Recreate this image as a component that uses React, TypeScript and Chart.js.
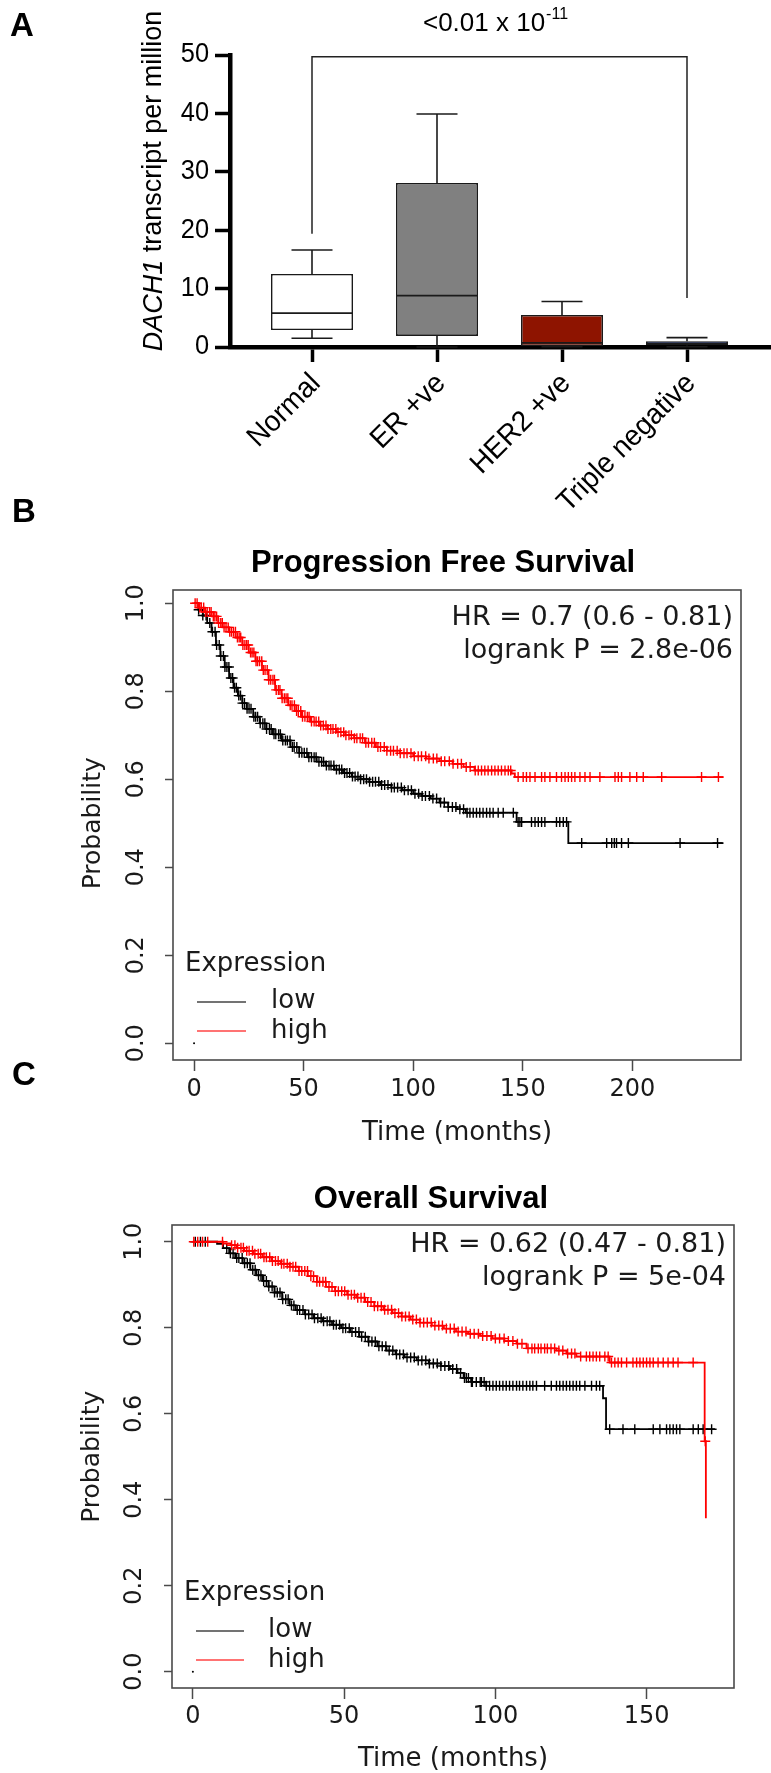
import React, { useEffect, useRef } from 'react';
import { Chart, registerables } from 'chart.js';

Chart.register(...registerables);

// ---------------- Panel A: box plot data ----------------
const categories = ['Normal', 'ER +ve', 'HER2 +ve', 'Triple negative'];
const categoryPos = [1, 2, 3, 4];
const whiskerLow = [1.5, 0.0, 0.05, 0.05];
const quartile1 = [2.9, 1.9, 0.15, 0.3];
const medians = [5.8, 8.8, 0.7, 0.6];
const quartile3 = [12.5, 28.1, 5.5, 1.0];
const whiskerHigh = [16.6, 39.9, 7.8, 1.6];
const boxColors = ['#ffffff', '#808080', '#8e1400', '#1f50ee'];
const yTicksA = [0, 10, 20, 30, 40, 50];
const bracketCats = [1, 4];
const bracketTop = 49.7;
const bracketLegEnds = [19.4, 8.4];
const pLabel = '<0.01 x 10';
const pExponent = '-11';
const yTitleItalic = 'DACH1';
const yTitleRest = ' transcript per million';

// ---------------- Panel B: Progression free survival ----------------
const pfsLowTimes = [0, 2, 4, 6, 8, 10, 12, 14, 16, 18, 20, 22, 24, 27, 30, 33, 36, 40, 44, 48, 52, 56, 60, 64, 68, 72, 76, 80, 85, 90, 95, 100, 104, 108, 112, 116, 120, 124, 147.2, 170.8, 241.6];
const pfsLowSurv = [1.0, 0.985, 0.972, 0.955, 0.935, 0.905, 0.88, 0.855, 0.83, 0.808, 0.79, 0.773, 0.76, 0.742, 0.727, 0.714, 0.702, 0.688, 0.673, 0.66, 0.65, 0.64, 0.631, 0.622, 0.614, 0.606, 0.6, 0.594, 0.587, 0.581, 0.575, 0.567, 0.562, 0.556, 0.547, 0.537, 0.532, 0.524, 0.503, 0.455, 0.455];
const pfsHighTimes = [0, 2, 5, 8, 11, 13, 16, 19, 22, 25, 28, 31, 34, 37, 40, 43, 46, 49, 53, 57, 61, 65, 69, 73, 78, 83, 88, 94, 100, 106, 112, 118, 123, 128, 144.9, 146.4, 241.6];
const pfsHighSurv = [1.0, 0.99, 0.98, 0.97, 0.955, 0.945, 0.935, 0.922, 0.905, 0.888, 0.868, 0.848, 0.826, 0.803, 0.784, 0.768, 0.755, 0.742, 0.731, 0.722, 0.714, 0.707, 0.7, 0.693, 0.683, 0.673, 0.665, 0.659, 0.652, 0.647, 0.641, 0.635, 0.628, 0.62, 0.613, 0.605, 0.605];
const pfsLowCensor = [2.1, 4.0, 5.5, 7.2, 8.4, 9.6, 10.3, 11.5, 12.2, 13.4, 14.1, 15.0, 15.9, 16.8, 17.6, 18.5, 19.3, 20.4, 21.2, 22.1, 23.0, 24.2, 25.1, 26.0, 27.3, 28.1, 29.0, 30.2, 31.4, 32.3, 33.1, 34.4, 35.2, 36.5, 37.3, 38.6, 39.4, 40.5, 41.7, 42.6, 43.8, 44.9, 45.7, 46.9, 48.0, 49.2, 50.3, 51.5, 52.4, 53.6, 54.8, 55.7, 57.0, 58.2, 59.1, 60.4, 61.6, 62.5, 63.8, 65.0, 66.3, 67.4, 68.7, 69.8, 71.0, 72.3, 73.5, 74.8, 76.0, 77.4, 78.7, 80.1, 81.5, 82.8, 84.3, 85.6, 87.0, 88.5, 90.1, 91.4, 92.9, 94.6, 96.0, 97.7, 99.2, 100.8, 102.5, 104.1, 105.6, 107.4, 109.0, 110.7, 112.5, 114.2, 116.0, 117.9, 119.5, 121.3, 123.0, 124.6, 125.9, 127.4, 128.9, 130.4, 131.9, 133.5, 135.0, 136.5, 138.8, 141.1, 145.7, 147.9, 148.7, 149.5, 154.0, 155.6, 157.1, 158.6, 160.1, 165.4, 166.9, 168.5, 170.0, 176.9, 188.3, 190.6, 191.8, 192.8, 195.1, 198.2, 221.8, 238.9];
const pfsHighCensor = [0.5, 1.4, 2.6, 3.3, 4.4, 5.2, 6.0, 7.1, 7.8, 8.8, 9.5, 10.3, 11.2, 12.2, 12.9, 13.7, 14.6, 15.6, 16.3, 17.1, 18.0, 18.9, 19.8, 20.6, 21.3, 22.3, 23.2, 24.0, 24.7, 25.8, 26.5, 27.3, 28.3, 29.0, 29.9, 30.9, 31.6, 32.4, 33.4, 34.1, 35.0, 36.0, 36.7, 37.5, 38.5, 39.2, 40.2, 41.2, 42.0, 42.8, 43.9, 44.7, 45.8, 46.8, 47.6, 48.7, 49.5, 50.6, 51.7, 52.5, 53.6, 54.8, 55.7, 56.9, 57.8, 59.0, 60.2, 61.1, 62.4, 63.4, 64.7, 65.7, 67.0, 68.3, 69.3, 70.7, 71.8, 73.2, 74.3, 75.8, 76.9, 78.4, 79.6, 81.1, 82.3, 83.9, 85.1, 86.8, 88.0, 89.7, 91.0, 92.7, 94.1, 95.8, 97.2, 99.0, 100.5, 102.3, 103.8, 105.7, 107.2, 109.2, 110.8, 112.8, 114.4, 116.5, 118.2, 120.3, 122.0, 124.2, 126.0, 128.3, 129.7, 131.2, 132.7, 134.2, 135.8, 137.3, 138.8, 140.3, 141.9, 143.4, 144.5, 147.9, 150.2, 151.7, 153.3, 155.6, 158.6, 160.1, 162.4, 165.4, 167.7, 169.3, 170.8, 172.3, 173.8, 176.1, 178.4, 180.7, 185.2, 192.1, 193.6, 195.1, 198.9, 202.0, 205.0, 213.4, 231.6, 239.3];

// ---------------- Panel C: Overall survival ----------------
const osLowTimes = [0, 8, 10, 12, 14, 16.5, 19, 21, 23, 25, 27, 29.5, 32, 34, 37, 40, 43, 46, 49, 52, 55, 58, 61, 64, 67, 70, 74, 78, 82, 85, 87.5, 89.5, 92, 97, 135.6, 136.6, 172.6];
const osLowSurv = [1.0, 0.995, 0.985, 0.973, 0.962, 0.95, 0.935, 0.922, 0.909, 0.896, 0.882, 0.866, 0.852, 0.841, 0.831, 0.822, 0.815, 0.807, 0.799, 0.79, 0.779, 0.768, 0.757, 0.747, 0.738, 0.731, 0.724, 0.717, 0.711, 0.704, 0.695, 0.683, 0.674, 0.665, 0.636, 0.564, 0.564];
const osHighTimes = [0, 10, 12.5, 14.5, 17, 20, 23, 26, 29, 32, 35, 38, 41, 44, 47, 51, 54, 57, 60, 63, 66, 69, 72, 75, 79, 83, 87, 91, 95, 99, 103, 107, 110.3, 120.2, 123.5, 126.8, 137.8, 169.2, 169.6];
const osHighSurv = [1.0, 0.996, 0.992, 0.986, 0.979, 0.972, 0.964, 0.955, 0.949, 0.942, 0.932, 0.92, 0.907, 0.895, 0.885, 0.877, 0.87, 0.86, 0.85, 0.842, 0.834, 0.826, 0.819, 0.812, 0.805, 0.798, 0.791, 0.786, 0.781, 0.775, 0.769, 0.763, 0.752, 0.747, 0.74, 0.733, 0.719, 0.536, 0.357];
const osLowCensor = [0.8, 2.5, 4.1, 11.2, 12.4, 13.3, 14.5, 15.2, 16.3, 17.1, 18.0, 18.9, 19.8, 20.6, 21.7, 22.5, 23.4, 24.3, 25.1, 26.2, 27.0, 27.9, 28.8, 29.7, 30.7, 31.5, 32.6, 33.4, 34.5, 35.3, 36.4, 37.2, 38.3, 39.4, 40.2, 41.3, 42.4, 43.2, 44.4, 45.3, 46.5, 47.4, 48.5, 49.6, 50.5, 51.7, 52.6, 53.8, 54.9, 55.8, 57.0, 58.1, 59.2, 60.3, 61.5, 62.6, 63.8, 64.9, 66.1, 67.3, 68.4, 69.6, 70.8, 72.0, 73.2, 74.5, 75.7, 77.0, 78.2, 79.5, 80.8, 82.0, 83.3, 84.6, 85.9, 87.2, 88.5, 89.8, 90.4, 91.1, 92.1, 92.4, 93.7, 95.0, 95.4, 96.3, 97.0, 98.1, 99.2, 100.3, 101.4, 102.5, 103.6, 104.7, 105.8, 107.0, 108.0, 109.1, 110.3, 111.4, 112.4, 113.6, 116.3, 118.5, 120.2, 121.3, 122.4, 123.5, 124.6, 125.7, 126.8, 127.9, 129.6, 131.8, 133.4, 134.5, 137.8, 142.2, 146.1, 152.2, 154.4, 156.6, 157.7, 158.8, 159.9, 161.0, 165.4, 167.1, 168.7, 171.5];
const osHighCensor = [0.3, 1.6, 3.2, 4.9, 9.8, 12.8, 13.9, 14.8, 15.9, 16.7, 17.8, 18.6, 19.7, 20.5, 21.6, 22.4, 23.5, 24.3, 25.4, 26.3, 27.3, 28.2, 29.3, 30.1, 31.2, 32.1, 33.1, 34.0, 35.1, 36.0, 37.0, 37.9, 39.0, 39.9, 41.0, 41.9, 43.0, 43.9, 45.0, 46.0, 47.1, 48.1, 49.2, 50.2, 51.3, 52.4, 53.4, 54.5, 55.6, 56.7, 57.8, 58.9, 60.0, 61.1, 62.3, 63.4, 64.5, 65.7, 66.8, 68.0, 69.1, 70.3, 71.5, 72.7, 73.9, 75.1, 76.3, 77.5, 78.8, 80.0, 81.3, 82.5, 83.8, 85.1, 86.4, 87.7, 89.0, 90.3, 91.7, 93.0, 94.4, 95.8, 97.2, 98.6, 100.0, 101.4, 102.9, 104.3, 105.8, 107.3, 108.8, 110.8, 112.1, 113.0, 114.2, 115.1, 116.3, 117.2, 118.4, 119.6, 121.0, 122.3, 123.9, 125.2, 126.3, 128.2, 130.1, 131.2, 132.3, 133.4, 134.5, 136.2, 137.3, 138.4, 139.5, 140.6, 141.7, 143.4, 145.5, 146.7, 147.8, 148.9, 150.0, 151.1, 152.2, 153.8, 155.5, 157.1, 158.8, 160.4, 165.4, 169.4];

const kmYTicks = [0, 0.2, 0.4, 0.6, 0.8, 1.0];
const pfsXTicks = [0, 50, 100, 150, 200];
const osXTicks = [0, 50, 100, 150];
const originDot = [0, 0];

const FA = '"Liberation Sans", Arial, Helvetica, sans-serif';
const FR = '"DejaVu Sans", "Liberation Sans", sans-serif';

function drawText(ctx: CanvasRenderingContext2D, s: string, x: number, y: number, font: string,
  align: CanvasTextAlign = 'left', baseline: CanvasTextBaseline = 'alphabetic', rot = 0, color = '#000', cond = 1) {
  ctx.save();
  ctx.translate(x, y);
  if (rot) ctx.rotate(rot);
  if (cond !== 1) ctx.scale(cond, 1);
  ctx.font = font;
  ctx.fillStyle = color;
  ctx.textAlign = align;
  ctx.textBaseline = baseline;
  ctx.fillText(s, 0, 0);
  ctx.restore();
}

function seg(ctx: CanvasRenderingContext2D, x1: number, y1: number, x2: number, y2: number) {
  ctx.beginPath();
  ctx.moveTo(x1, y1);
  ctx.lineTo(x2, y2);
  ctx.stroke();
}

function survAt(times: number[], surv: number[], t: number) {
  let s = surv[0];
  for (let i = 0; i < times.length; i++) {
    if (times[i] <= t) s = surv[i];
    else break;
  }
  return s;
}

function makeBoxConfig(): any {
  const boxPlugin = {
    id: 'boxExtras',
    afterDatasetsDraw(chart: any) {
      const ctx = chart.ctx as CanvasRenderingContext2D;
      const xs = chart.scales.x;
      const ys = chart.scales.y;
      const meta = chart.getDatasetMeta(0);
      ctx.save();
      ctx.strokeStyle = '#1a1a1a';
      ctx.lineWidth = 1.6;
      meta.data.forEach((el: any, i: number) => {
        const x = el.x;
        const w = el.width;
        const cap = w / 4;
        const yHi = ys.getPixelForValue(whiskerHigh[i]);
        const yQ3 = ys.getPixelForValue(quartile3[i]);
        const yQ1 = ys.getPixelForValue(quartile1[i]);
        const yLo = ys.getPixelForValue(whiskerLow[i]);
        const yMed = ys.getPixelForValue(medians[i]);
        seg(ctx, x, yQ3, x, yHi);
        seg(ctx, x - cap, yHi, x + cap, yHi);
        seg(ctx, x, yQ1, x, yLo);
        seg(ctx, x - cap, yLo, x + cap, yLo);
        seg(ctx, x - w / 2, yMed, x + w / 2, yMed);
      });
      ctx.strokeStyle = '#222';
      ctx.lineWidth = 1.5;
      const bx1 = xs.getPixelForValue(bracketCats[0]);
      const bx2 = xs.getPixelForValue(bracketCats[1]);
      const by = ys.getPixelForValue(bracketTop);
      ctx.beginPath();
      ctx.moveTo(bx1, ys.getPixelForValue(bracketLegEnds[0]));
      ctx.lineTo(bx1, by);
      ctx.lineTo(bx2, by);
      ctx.lineTo(bx2, ys.getPixelForValue(bracketLegEnds[1]));
      ctx.stroke();
      ctx.restore();
    },
    afterDraw(chart: any) {
      const ctx = chart.ctx as CanvasRenderingContext2D;
      const xs = chart.scales.x;
      const ys = chart.scales.y;
      yTicksA.forEach((v) => drawText(ctx, String(v), 209, ys.getPixelForValue(v), `27px ${FA}`, 'right', 'middle', 0, '#000', 0.94));
      categories.forEach((c, i) => {
        drawText(ctx, c, xs.getPixelForValue(categoryPos[i]) + 4, 379, `29px ${FA}`, 'right', 'middle', -Math.PI / 4, '#000', 0.96);
      });
      ctx.save();
      const cy = (ys.getPixelForValue(0) + ys.getPixelForValue(50)) / 2 - 20;
      ctx.translate(154, cy);
      ctx.rotate(-Math.PI / 2);
      ctx.textBaseline = 'middle';
      ctx.textAlign = 'left';
      ctx.font = `italic 27px ${FA}`;
      const w1 = ctx.measureText(yTitleItalic).width;
      ctx.font = `27px ${FA}`;
      const w2 = ctx.measureText(yTitleRest).width;
      const start = -(w1 + w2) / 2;
      ctx.fillStyle = '#000';
      ctx.font = `italic 27px ${FA}`;
      ctx.fillText(yTitleItalic, start, 0);
      ctx.font = `27px ${FA}`;
      ctx.fillText(yTitleRest, start + w1, 0);
      ctx.restore();
      ctx.save();
      ctx.font = `26px ${FA}`;
      const wm = ctx.measureText(pLabel).width;
      ctx.font = `16px ${FA}`;
      const we = ctx.measureText(pExponent).width;
      const sx0 = 495 - (wm + we) / 2;
      ctx.fillStyle = '#000';
      ctx.textBaseline = 'alphabetic';
      ctx.font = `26px ${FA}`;
      ctx.fillText(pLabel, sx0, 31);
      ctx.font = `16px ${FA}`;
      ctx.fillText(pExponent, sx0 + wm + 1, 19);
      ctx.restore();
      drawText(ctx, 'A', 10, 36, `bold 33px ${FA}`);
      drawText(ctx, 'B', 12, 522, `bold 33px ${FA}`);
    },
  };

  return {
    type: 'bar',
    data: {
      datasets: [
        {
          data: categoryPos.map((x, i) => ({ x, y: [quartile1[i], quartile3[i]] })),
          backgroundColor: boxColors,
          borderColor: '#1a1a1a',
          borderWidth: 1.6,
          borderSkipped: false,
          barPercentage: 0.82,
          categoryPercentage: 0.8,
        },
      ],
    },
    options: {
      animation: false,
      responsive: false,
      maintainAspectRatio: false,
      layout: { padding: { left: 0, right: 0, top: 55, bottom: 0 } },
      plugins: { legend: { display: false }, tooltip: { enabled: false }, title: { display: false } },
      scales: {
        x: {
          type: 'linear',
          offset: false,
          min: 0.344,
          max: 4.672,
          afterBuildTicks: (s: any) => { s.ticks = categoryPos.map((v) => ({ value: v })); },
          afterFit: (s: any) => { s.height = 193; },
          ticks: { display: false },
          grid: { offset: false, drawOnChartArea: false, drawTicks: true, tickLength: 15, tickWidth: 3.5, tickColor: '#000' },
          border: { display: true, width: 4.5, color: '#000' },
        },
        y: {
          type: 'linear',
          min: 0,
          max: 50,
          afterBuildTicks: (s: any) => { s.ticks = yTicksA.map((v) => ({ value: v })); },
          afterFit: (s: any) => { s.width = 230; },
          ticks: { display: false },
          grid: { drawOnChartArea: false, drawTicks: true, tickLength: 15, tickWidth: 3.5, tickColor: '#000' },
          border: { display: true, width: 4.5, color: '#000' },
        },
      },
    },
    plugins: [boxPlugin],
  };
}

type KM = {
  lowT: number[]; lowS: number[]; highT: number[]; highS: number[]; lowC: number[]; highC: number[];
  xMin: number; xMax: number; yMin: number; yMax: number; xTicks: number[];
  padTop: number; padRight: number; yWidth: number; xHeight: number;
  title: string; titleX: number; titleY: number;
  hr: string[]; hrX: number; hrY: number[];
  yTickX: number; xTickY: number; xTitleY: number; yTitleX: number;
  exprX: number; exprY: number; lowY: number; highY: number; lineX1: number; lineX2: number; legTextX: number;
  letter?: string; letterX?: number; letterY?: number;
};

function makeKMConfig(k: KM): any {
  const pts = (T: number[], S: number[]) => T.map((t, i) => ({ x: t, y: S[i] }));
  const cens = (C: number[], T: number[], S: number[]) => C.map((t) => ({ x: t, y: survAt(T, S, t) }));
  const kmPlugin = {
    id: 'kmExtras',
    afterDraw(chart: any) {
      const ctx = chart.ctx as CanvasRenderingContext2D;
      const xs = chart.scales.x;
      const ys = chart.scales.y;
      const a = chart.chartArea;
      ctx.save();
      ctx.strokeStyle = '#4a4a4a';
      ctx.lineWidth = 1.6;
      ctx.strokeRect(a.left, a.top, a.right - a.left, a.bottom - a.top);
      ctx.restore();
      kmYTicks.forEach((v) => drawText(ctx, v.toFixed(1), k.yTickX, ys.getPixelForValue(v), `24px ${FR}`, 'center', 'middle', -Math.PI / 2, '#1a1a1a'));
      k.xTicks.forEach((v) => drawText(ctx, String(v), xs.getPixelForValue(v), k.xTickY, `24px ${FR}`, 'center', 'middle', 0, '#1a1a1a'));
      drawText(ctx, 'Time (months)', (a.left + a.right) / 2, k.xTitleY, `26px ${FR}`, 'center', 'middle', 0, '#1a1a1a');
      const yc = (ys.getPixelForValue(0) + ys.getPixelForValue(1)) / 2;
      drawText(ctx, 'Probability', k.yTitleX, yc, `25px ${FR}`, 'center', 'middle', -Math.PI / 2, '#1a1a1a');
      drawText(ctx, k.title, k.titleX, k.titleY, `bold 31px ${FA}`, 'center', 'middle', 0, '#000');
      k.hr.forEach((s, i) => drawText(ctx, s, k.hrX, k.hrY[i], `27px ${FR}`, 'right', 'middle', 0, '#1a1a1a'));
      drawText(ctx, 'Expression', k.exprX, k.exprY, `26px ${FR}`, 'left', 'middle', 0, '#1a1a1a');
      ctx.save();
      ctx.lineWidth = 2.2;
      ctx.strokeStyle = 'rgba(0,0,0,0.55)';
      seg(ctx, k.lineX1, k.lowY, k.lineX2, k.lowY);
      ctx.strokeStyle = 'rgba(255,0,0,0.55)';
      seg(ctx, k.lineX1, k.highY, k.lineX2, k.highY);
      ctx.restore();
      drawText(ctx, 'low', k.legTextX, k.lowY - 1, `26px ${FR}`, 'left', 'middle', 0, '#1a1a1a');
      drawText(ctx, 'high', k.legTextX, k.highY, `26px ${FR}`, 'left', 'middle', 0, '#1a1a1a');
      if (k.letter) drawText(ctx, k.letter, k.letterX || 0, k.letterY || 0, `bold 33px ${FA}`);
    },
  };
  return {
    type: 'line',
    data: {
      datasets: [
        { label: 'high censored', data: cens(k.highC, k.highT, k.highS), showLine: false, pointStyle: 'cross', pointRadius: 5, pointBorderWidth: 1.4, pointBorderColor: '#ff0000', borderColor: '#ff0000', order: 0 },
        { label: 'high', data: pts(k.highT, k.highS), stepped: 'before', borderColor: '#ff0000', borderWidth: 1.8, pointRadius: 0, fill: false, order: 1 },
        { label: 'low censored', data: cens(k.lowC, k.lowT, k.lowS), showLine: false, pointStyle: 'cross', pointRadius: 5, pointBorderWidth: 1.4, pointBorderColor: '#000', borderColor: '#000', order: 2 },
        { label: 'low', data: pts(k.lowT, k.lowS), stepped: 'before', borderColor: '#000', borderWidth: 1.8, pointRadius: 0, fill: false, order: 3 },
        { label: 'origin', data: [{ x: originDot[0], y: originDot[1] }], showLine: false, pointRadius: 1, pointBackgroundColor: '#000', pointBorderWidth: 0, order: 4 },
      ],
    },
    options: {
      animation: false,
      responsive: false,
      maintainAspectRatio: false,
      layout: { padding: { left: 0, right: k.padRight, top: k.padTop, bottom: 0 } },
      plugins: { legend: { display: false }, tooltip: { enabled: false }, title: { display: false } },
      scales: {
        x: {
          type: 'linear',
          min: k.xMin,
          max: k.xMax,
          afterBuildTicks: (s: any) => { s.ticks = k.xTicks.map((v) => ({ value: v })); },
          afterFit: (s: any) => { s.height = k.xHeight; },
          ticks: { display: false },
          grid: { drawOnChartArea: false, drawTicks: true, tickLength: 11, tickWidth: 1.5, tickColor: '#4a4a4a' },
          border: { display: false },
        },
        y: {
          type: 'linear',
          min: k.yMin,
          max: k.yMax,
          afterBuildTicks: (s: any) => { s.ticks = kmYTicks.map((v) => ({ value: v })); },
          afterFit: (s: any) => { s.width = k.yWidth; },
          ticks: { display: false },
          grid: { drawOnChartArea: false, drawTicks: true, tickLength: 8, tickWidth: 1.5, tickColor: '#4a4a4a' },
          border: { display: false },
        },
      },
    },
    plugins: [kmPlugin],
  };
}

export default function App() {
  const refA = useRef<HTMLCanvasElement>(null);
  const refB = useRef<HTMLCanvasElement>(null);
  const refC = useRef<HTMLCanvasElement>(null);

  useEffect(() => {
    const pfs: KM = {
      lowT: pfsLowTimes, lowS: pfsLowSurv, highT: pfsHighTimes, highS: pfsHighSurv, lowC: pfsLowCensor, highC: pfsHighCensor,
      xMin: -9.6, xMax: 249.6, yMin: -0.038, yMax: 1.03, xTicks: pfsXTicks,
      padTop: 85, padRight: 30, yWidth: 173, xHeight: 85,
      title: 'Progression Free Survival', titleX: 443, titleY: 58,
      hr: ['HR = 0.7 (0.6 - 0.81)', 'logrank P = 2.8e-06'], hrX: 733, hrY: [113, 146],
      yTickX: 137, xTickY: 585, xTitleY: 628, yTitleX: 93,
      exprX: 185, exprY: 459, lowY: 497, highY: 526, lineX1: 197, lineX2: 246, legTextX: 271,
      letter: 'C', letterX: 12, letterY: 580,
    };
    const os: KM = {
      lowT: osLowTimes, lowS: osLowSurv, highT: osHighTimes, highS: osHighSurv, lowC: osLowCensor, highC: osHighCensor,
      xMin: -6.9, xMax: 178.9, yMin: -0.038, yMax: 1.039, xTicks: osXTicks,
      padTop: 80, padRight: 37, yWidth: 172, xHeight: 85,
      title: 'Overall Survival', titleX: 431, titleY: 54,
      hr: ['HR = 0.62 (0.47 - 0.81)', 'logrank P = 5e-04'], hrX: 726, hrY: [100, 133],
      yTickX: 135, xTickY: 572, xTitleY: 614, yTitleX: 92,
      exprX: 184, exprY: 448, lowY: 486, highY: 515, lineX1: 196, lineX2: 244, legTextX: 268,
    };
    const charts = [
      new Chart(refA.current as HTMLCanvasElement, makeBoxConfig()),
      new Chart(refB.current as HTMLCanvasElement, makeKMConfig(pfs)),
      new Chart(refC.current as HTMLCanvasElement, makeKMConfig(os)),
    ];
    return () => charts.forEach((c) => c.destroy());
  }, []);

  const cs = (top: number, h: number): React.CSSProperties => ({ position: 'absolute', left: 0, top, width: 771, height: h });
  return (
    <div style={{ position: 'absolute', left: 0, top: 0, width: 771, height: 1773, background: '#fff' }}>
      <canvas ref={refA} width={771} height={540} style={cs(0, 540)} />
      <canvas ref={refB} width={771} height={640} style={cs(505, 640)} />
      <canvas ref={refC} width={771} height={628} style={cs(1145, 628)} />
    </div>
  );
}
